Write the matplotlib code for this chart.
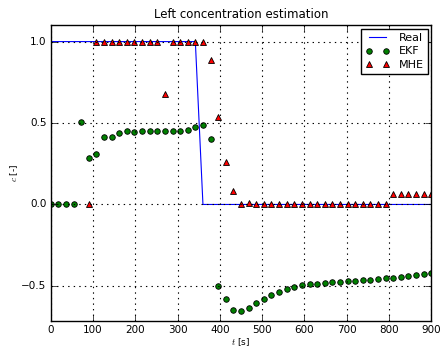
import numpy as np
import matplotlib
matplotlib.use('Agg')
import matplotlib.pyplot as plt

plt.style.use('classic')

# sample times [s]
t = np.arange(0, 901, 18)

real = [1.0] * 20 + [0.0] * 31

ekf = [0.0, 0.0, 0.0, 0.0, 0.505, 0.285, 0.307, 0.415, 0.417, 0.436,
       0.448, 0.444, 0.450, 0.452, 0.452, 0.452, 0.454, 0.454, 0.458, 0.475,
       0.485, 0.401, -0.503, -0.579, -0.648, -0.654, -0.634, -0.607, -0.581, -0.558,
       -0.536, -0.517, -0.505, -0.497, -0.491, -0.487, -0.482, -0.478, -0.474, -0.472,
       -0.468, -0.466, -0.462, -0.459, -0.454, -0.452, -0.446, -0.441, -0.435, -0.429,
       -0.423]

# MHE starts once the horizon is filled
t_mhe = t[5:]
mhe = [0.0, 1.0, 1.0, 1.0, 1.0, 1.0, 1.0, 1.0, 1.0, 1.0,
       0.68, 1.0, 1.0, 1.0, 1.0, 1.0, 0.886, 0.538, 0.263, 0.08,
       0.0, 0.01, 0.0, 0.0, 0.0, 0.0, 0.0, 0.0, 0.0, 0.0,
       0.0, 0.0, 0.0, 0.0, 0.0, 0.0, 0.0, 0.0, 0.0, 0.0,
       0.062, 0.062, 0.066, 0.066, 0.063, 0.063]

fig = plt.figure(figsize=(4.41, 3.49), dpi=100, facecolor='white')
ax = fig.add_axes([0.115, 0.080, 0.863, 0.8475])

ax.plot(t, real, 'b-', linewidth=0.8, label='Real')
ax.plot(t, ekf, 'go', markersize=4, markeredgewidth=0.6, label='EKF')
ax.plot(t_mhe, mhe, 'r^', markersize=4, markeredgewidth=0.6, label='MHE')

ax.set_xlim(0, 900)
ax.set_ylim(-0.716, 1.1)
ax.set_xticks(np.arange(0, 901, 100))
ax.set_yticks([-0.5, 0.0, 0.5, 1.0])
ax.tick_params(labelsize=7.5, pad=3)
ax.grid(True, color='k', linestyle=':', linewidth=0.8)

ax.set_title('Left concentration estimation', fontsize=8.5)
ax.set_xlabel('$t$ [s]', fontsize=6.5, labelpad=1)
ax.set_ylabel('$c$ [-]', fontsize=6.5, labelpad=1)

ax.legend(loc='upper right', fontsize=8, numpoints=2, borderaxespad=0.3,
          handlelength=2.2, labelspacing=0.3, fancybox=False)

fig.savefig('out.png', dpi=100, facecolor='white')
